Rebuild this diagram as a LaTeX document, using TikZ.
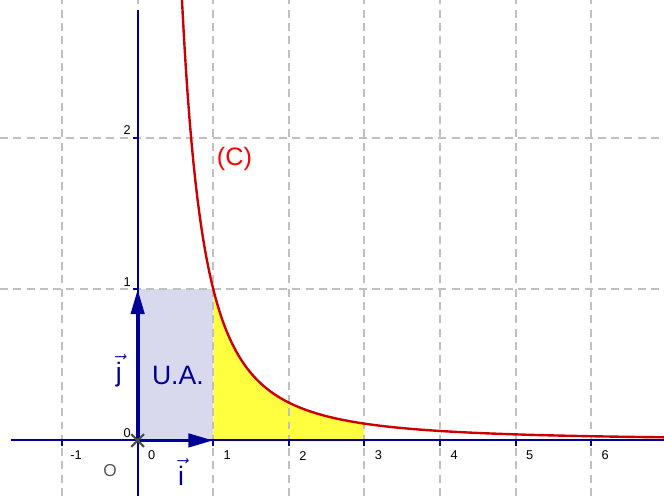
\documentclass[tikz,border=0pt]{standalone}
\usepackage{amsmath}
\usepackage{fontspec}
\setmainfont{Liberation Sans}
\usetikzlibrary{arrows.meta}
\usetikzlibrary{shapes.misc}
\definecolor{axisblue}{RGB}{0,0,153}
\definecolor{uafill}{RGB}{217,217,238}
\definecolor{areayellow}{RGB}{255,255,64}
\definecolor{curvered}{RGB}{204,0,0}
\definecolor{gridgray}{RGB}{192,192,192}

\begin{document}
\begin{tikzpicture}[x=1cm, y=2cm,
    grid/.style={gridgray, line width=0.75pt, dash pattern=on 3pt off 2pt},
    axis/.style={axisblue, line width=0.75pt},
    vec/.style={axisblue, line width=1.4pt, -{Triangle[length=9.4pt,width=5pt]}},
    ticklab/.style={font=\fontsize{4.8}{5}\selectfont, inner sep=0pt}]
    \useasboundingbox (-1.821,-0.367) rectangle (6.962,2.913);
    \clip (-1.821,-0.367) rectangle (6.962,2.913);
    % unit area and area under the curve
    \fill[uafill] (0,0) rectangle (1,1);
    \fill[areayellow] (1,0) -- plot[domain=1:3, samples=80] (\x,{1/(\x*\x)}) -- (3,0) -- cycle;
    % grid
    \foreach \k in {-1,...,6} {
        \draw[grid] (\k,-0.367) -- (\k,2.913);
    }
    \foreach \k in {1,2} {
        \draw[grid] (-1.821,\k) -- (6.962,\k);
    }
    % axes
    \coordinate (O) at (0,0);
    \coordinate (xl) at (-1.68,0);
    \coordinate (xr) at (6.962,0);
    \coordinate (yb) at (0,-0.367);
    \coordinate (yt) at (0,2.847);
    \draw[axis] (xl) -- (xr);
    \draw[axis] (yb) -- (yt);
    \foreach \k in {-1,...,6} {
        \draw[axis] (\k,0) -- (\k,-0.04);
        \node[ticklab] (xt\k) at (\k+0.185,-0.1) {\k};
    }
    \foreach \k in {1,2} {
        \draw[axis] (0,\k) -- (-0.06,\k);
        \node[ticklab] (yt\k) at (-0.14,\k+0.05) {\k};
    }
    \node[ticklab] (yt0) at (-0.14,0.05) {0};
    % curve
    \draw[curvered, line width=0.9pt] plot[domain=0.585:6.97, samples=250] (\x,{1/(\x*\x)});
    \node[text=red, font=\fontsize{9.5}{10}\selectfont] (C) at (1.28,1.86) {(C)};
    % unit vectors
    \coordinate (I) at (1,0);
    \coordinate (J) at (0,1);
    \draw[vec] (O) -- (I);
    \draw[vec] (O) -- (J);
    \node[draw=gray!60!black, line width=0.8pt, cross out, minimum size=4pt, inner sep=0pt] (origin) at (O) {};
    \node[text=axisblue, font=\fontsize{10}{11}\selectfont] (ilab) at (0.575,-0.21) {$\vec{\text{i}}$};
    \node[text=axisblue, font=\fontsize{10}{11}\selectfont] (jlab) at (-0.25,0.46) {$\vec{\text{j}}$};
    \node[text=axisblue, font=\fontsize{10}{11}\selectfont] (ua) at (0.532,0.43) {U.A.};
    \node[text=gray!70!black, font=\fontsize{6.5}{7}\selectfont] (Olab) at (-0.366,-0.2) {O};
\end{tikzpicture}
\end{document}
